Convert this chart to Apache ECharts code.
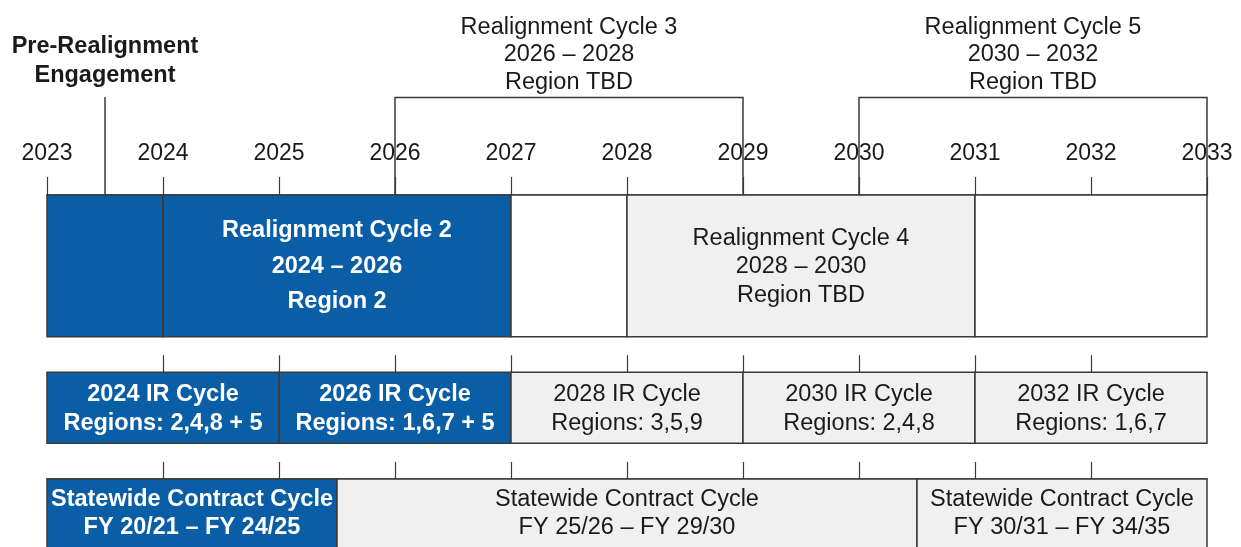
<!DOCTYPE html>
<html><head><meta charset="utf-8">
<script src="https://cdn.jsdelivr.net/npm/echarts@6/dist/echarts.min.js"></script>
<style>html,body{margin:0;padding:0;background:#fff}#c{width:1241px;height:547px}</style>
</head><body><div id="c"></div>
<script>
// ---- data ----
const years = [2023, 2024, 2025, 2026, 2027, 2028, 2029, 2030, 2031, 2032, 2033];
const yearLabels = ['2023', '2024', '2025', '2026', '2027', '2028', '2029', '2030', '2031', '2032', '2033'];

const realignStart = [2023, 2024, 2027, 2028, 2031];
const realignEnd = [2024, 2027, 2028, 2031, 2033];
const realignLabel = ['', 'Realignment Cycle 2\n2024 – 2026\nRegion 2', '', 'Realignment Cycle 4\n2028 – 2030\nRegion TBD', ''];
const realignStatus = ['current', 'current', 'open', 'planned', 'open'];

const irStart = [2023, 2025, 2027, 2029, 2031];
const irEnd = [2025, 2027, 2029, 2031, 2033];
const irLabel = ['2024 IR Cycle\nRegions: 2,4,8 + 5', '2026 IR Cycle\nRegions: 1,6,7 + 5', '2028 IR Cycle\nRegions: 3,5,9', '2030 IR Cycle\nRegions: 2,4,8', '2032 IR Cycle\nRegions: 1,6,7'];
const irStatus = ['current', 'current', 'planned', 'planned', 'planned'];

const contractStart = [2023, 2025.5, 2030.5];
const contractEnd = [2025.5, 2030.5, 2033];
const contractLabel = ['Statewide Contract Cycle\nFY 20/21 – FY 24/25', 'Statewide Contract Cycle\nFY 25/26 – FY 29/30', 'Statewide Contract Cycle\nFY 30/31 – FY 34/35'];
const contractStatus = ['current', 'planned', 'planned'];

const bracketStart = [2026, 2030];
const bracketEnd = [2029, 2033];
const bracketLabel = ['Realignment Cycle 3\n2026 – 2028\nRegion TBD', 'Realignment Cycle 5\n2030 – 2032\nRegion TBD'];

const markerYear = [2023.5];
const markerLabel = ['Pre-Realignment\nEngagement'];

// ---- layout & style ----
const BLUE = '#0a5ea6', GREY = '#f0f0f0', LINE = '#3a3a3a', TEXT = '#1a1a1a';
const FONT = 'Liberation Sans, Arial, Helvetica, sans-serif';
const H = 547, LEFT = 47, RIGHT = 34;
const rows = {
  realign: { top: 195, bottom: 336.7, textY: { current: 266.5, planned: 267 }, lh: { current: 35.5, planned: 28.5 } },
  ir: { top: 372.3, bottom: 443.3, textY: { current: 409, planned: 409 }, lh: { current: 29, planned: 29 } },
  contract: { top: 479, bottom: 552, textY: { current: 513.5, planned: 513.5 }, lh: { current: 28.5, planned: 28.5 } }
};
const bracketY = 97.5, bracketTextY = 55, markerTop = 97, markerTextY = 61;

function boxRenderer(labels, status, row) {
  return function (params, api) {
    const i = api.value(2);
    const p0 = api.coord([api.value(0), row.top]);
    const p1 = api.coord([api.value(1), row.bottom]);
    const st = status[i];
    const fill = st === 'current' ? BLUE : (st === 'planned' ? GREY : '#ffffff');
    const children = [{
      type: 'rect',
      shape: { x: p0[0], y: p0[1], width: p1[0] - p0[0], height: p1[1] - p0[1] },
      style: { fill: fill, stroke: LINE, lineWidth: 1.5 }
    }];
    if (labels[i]) {
      const ty = api.coord([api.value(0), row.textY[st]])[1];
      children.push({
        type: 'text', x: (p0[0] + p1[0]) / 2, y: ty,
        style: {
          text: labels[i], fill: st === 'current' ? '#ffffff' : TEXT,
          fontFamily: FONT, fontSize: 23.5, fontWeight: st === 'current' ? 'bold' : 'normal',
          align: 'center', verticalAlign: 'middle', lineHeight: row.lh[st]
        }
      });
    }
    return { type: 'group', children: children };
  };
}

function bracketRenderer(params, api) {
  const i = api.value(2);
  const a0 = api.coord([api.value(0), rows.realign.top]);
  const a1 = api.coord([api.value(0), bracketY]);
  const b1 = api.coord([api.value(1), bracketY]);
  const b0 = api.coord([api.value(1), rows.realign.top]);
  const t = api.coord([(api.value(0) + api.value(1)) / 2, bracketTextY]);
  return {
    type: 'group', children: [
      { type: 'polyline', shape: { points: [a0, a1, b1, b0] }, style: { fill: null, stroke: LINE, lineWidth: 1.5 } },
      { type: 'text', x: t[0], y: t[1], style: { text: bracketLabel[i], fill: TEXT, fontFamily: FONT, fontSize: 23.5, align: 'center', verticalAlign: 'middle', lineHeight: 27.5 } }
    ]
  };
}

function markerRenderer(params, api) {
  const i = api.value(1);
  const a = api.coord([api.value(0), markerTop]);
  const b = api.coord([api.value(0), rows.realign.top]);
  const t = api.coord([api.value(0), markerTextY]);
  return {
    type: 'group', children: [
      { type: 'line', shape: { x1: a[0], y1: a[1], x2: b[0], y2: b[1] }, style: { stroke: LINE, lineWidth: 1.5 } },
      { type: 'text', x: t[0], y: t[1], style: { text: markerLabel[i], fill: TEXT, fontFamily: FONT, fontSize: 23.5, fontWeight: 'bold', align: 'center', verticalAlign: 'middle', lineHeight: 28.5 } }
    ]
  };
}

const spans = (s, e) => s.map((v, i) => [v, e[i], i]);
const tickStyle = { color: LINE, width: 1.2 };
const innerYears = years.slice(1, -1);

function rowAxis(gridIdx, showLabels, tickLen, tickVals) {
  const ax = {
    gridIndex: gridIdx, type: 'value', min: years[0], max: years[years.length - 1], interval: 1,
    position: 'top',
    axisLine: { show: true, onZero: false, lineStyle: { color: LINE, width: 1.5 } },
    splitLine: { show: false },
    axisTick: { show: true, inside: false, length: tickLen, lineStyle: tickStyle },
    axisLabel: { show: false }
  };
  if (tickVals) ax.axisTick.customValues = tickVals;
  if (showLabels) {
    ax.axisLabel = {
      show: true, margin: 41, verticalAlign: 'middle', fontSize: 23, fontFamily: FONT, color: TEXT,
      showMinLabel: true, showMaxLabel: true,
      formatter: v => { const k = years.indexOf(Math.round(v)); return k >= 0 ? yearLabels[k] : ''; }
    };
  }
  return ax;
}

const chart = echarts.init(document.getElementById('c'), null, { renderer: 'canvas' });
chart.setOption({
  animation: false,
  backgroundColor: '#ffffff',
  grid: [
    { left: LEFT, right: RIGHT, top: 0, bottom: 0 },
    { left: LEFT, right: RIGHT, top: rows.realign.top, height: rows.realign.bottom - rows.realign.top },
    { left: LEFT, right: RIGHT, top: rows.ir.top, height: rows.ir.bottom - rows.ir.top },
    { left: LEFT, right: RIGHT, top: rows.contract.top, height: 60 }
  ],
  xAxis: [
    { gridIndex: 0, type: 'value', min: years[0], max: years[years.length - 1], show: false },
    rowAxis(1, true, 18, null),
    rowAxis(2, false, 17, innerYears),
    rowAxis(3, false, 17, innerYears)
  ],
  yAxis: [
    { gridIndex: 0, type: 'value', min: 0, max: H, inverse: true, show: false },
    { gridIndex: 1, type: 'value', min: 0, max: 1, show: false },
    { gridIndex: 2, type: 'value', min: 0, max: 1, show: false },
    { gridIndex: 3, type: 'value', min: 0, max: 1, show: false }
  ],
  series: [
    { type: 'custom', xAxisIndex: 0, yAxisIndex: 0, clip: false, renderItem: boxRenderer(realignLabel, realignStatus, rows.realign), data: spans(realignStart, realignEnd), encode: { x: [0, 1] } },
    { type: 'custom', xAxisIndex: 0, yAxisIndex: 0, clip: false, renderItem: boxRenderer(irLabel, irStatus, rows.ir), data: spans(irStart, irEnd), encode: { x: [0, 1] } },
    { type: 'custom', xAxisIndex: 0, yAxisIndex: 0, clip: false, renderItem: boxRenderer(contractLabel, contractStatus, rows.contract), data: spans(contractStart, contractEnd), encode: { x: [0, 1] } },
    { type: 'custom', xAxisIndex: 0, yAxisIndex: 0, clip: false, renderItem: bracketRenderer, data: spans(bracketStart, bracketEnd), encode: { x: [0, 1] } },
    { type: 'custom', xAxisIndex: 0, yAxisIndex: 0, clip: false, renderItem: markerRenderer, data: markerYear.map((v, i) => [v, i]), encode: { x: 0 } }
  ]
});
</script>
</body></html>
